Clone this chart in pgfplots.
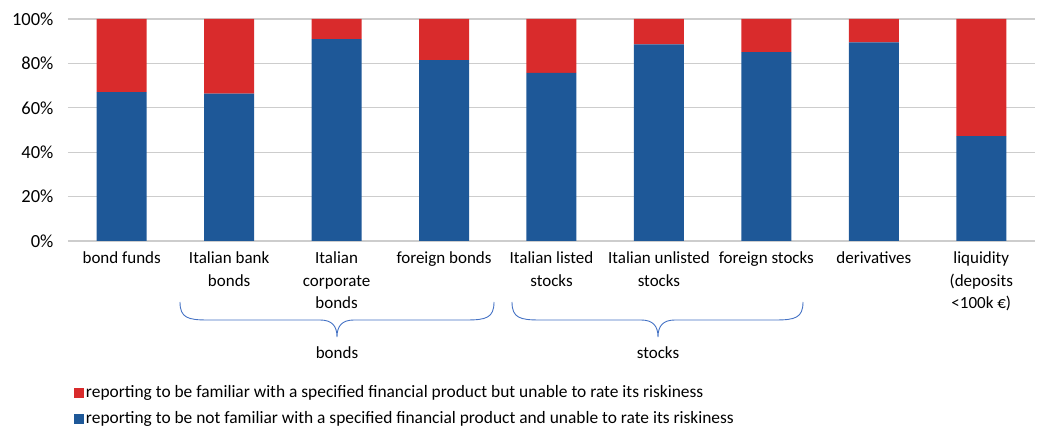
\documentclass[border=0pt]{standalone}
\usepackage{pgfplots}
\pgfplotsset{compat=1.18}
\usepackage{fontspec}
\setmainfont{Carlito}
\definecolor{famred}{RGB}{217,43,44}
\definecolor{notblue}{RGB}{30,88,152}
\definecolor{gridgrey}{RGB}{205,205,205}
\definecolor{bracebl}{RGB}{68,114,196}

\begin{document}
\begin{tikzpicture}
\begin{axis}[at={(53.72pt,0pt)}, anchor=origin, scale only axis,
    width=967pt, height=222pt,
    ybar stacked, bar width=50pt,
    xmin=-0.5, xmax=8.5, ymin=0, ymax=100,
    ytick={0,20,...,100},
    yticklabel={\pgfmathprintnumber{\tick}\%},
    /pgf/number format/assume math mode=true,
    ymajorgrids, grid style={gridgrey, line width=1.3pt},
    axis line style={draw=none}, major tick length=0pt,
    tick label style={font=\fontsize{17}{22.5}\selectfont},
    yticklabel style={xshift=-11pt, font=\fontsize{18.5}{22}\selectfont},
    xtick={0,...,8},
    xticklabels={bond funds, Italian bank\\bonds, Italian\\corporate\\bonds,
      foreign bonds, Italian listed\\stocks, Italian unlisted\\stocks,
      foreign stocks, derivatives, liquidity\\(deposits\\<100k €)},
    xticklabel style={align=center, anchor=north, yshift=-7.5pt},
    reverse legend,
    legend style={at={(0.006,-0.64)}, anchor=north west, draw=none,
      font=\fontsize{17.4}{20}\selectfont, row sep=9pt, inner sep=0pt,
      nodes={inner sep=2pt}},
    legend cell align=left,
  ]
\addplot[fill=notblue, draw=none,
  legend image code/.code={\fill[notblue] (0pt,-5.5pt) rectangle (10pt,4.5pt);}]
  coordinates {(0,67.1) (1,66.4) (2,90.9) (3,81.5) (4,75.7) (5,88.6) (6,85.1) (7,89.5) (8,47.2)};
\addplot[fill=famred, draw=none,
  legend image code/.code={\fill[famred] (0pt,-5.5pt) rectangle (10pt,4.5pt);}]
  coordinates {(0,32.9) (1,33.6) (2,9.1) (3,18.5) (4,24.3) (5,11.4) (6,14.9) (7,10.5) (8,52.8)};
\legend{reporting to be not familiar with a specified financial product and unable to rate its riskiness,
  reporting to be familiar with a specified financial product but unable to rate its riskiness}
\end{axis}
% group braces under the category labels
\draw[bracebl, line width=0.9pt] (112pt,-61pt) .. controls (112pt,-77pt) and (120pt,-79pt) .. (140pt,-79pt)
  -- (252pt,-79pt) .. controls (264pt,-79pt) and (269pt,-85pt) .. (269pt,-96pt)
  .. controls (269pt,-85pt) and (274pt,-79pt) .. (286pt,-79pt) -- (398pt,-79pt)
  .. controls (418pt,-79pt) and (426pt,-77pt) .. (426pt,-61pt);
\draw[bracebl, line width=0.9pt] (444pt,-61pt) .. controls (444pt,-77pt) and (452pt,-79pt) .. (472pt,-79pt)
  -- (573pt,-79pt) .. controls (585pt,-79pt) and (590pt,-85pt) .. (590pt,-96pt)
  .. controls (590pt,-85pt) and (595pt,-79pt) .. (607pt,-79pt) -- (707pt,-79pt)
  .. controls (727pt,-79pt) and (735pt,-77pt) .. (735pt,-61pt);
\node[font=\fontsize{17}{20}\selectfont] at (269pt,-112pt) {bonds};
\node[font=\fontsize{17}{20}\selectfont] at (590pt,-112pt) {stocks};
\pgfresetboundingbox
\useasboundingbox (-68pt,-189pt) rectangle (990pt,241pt);
\end{tikzpicture}
\end{document}
